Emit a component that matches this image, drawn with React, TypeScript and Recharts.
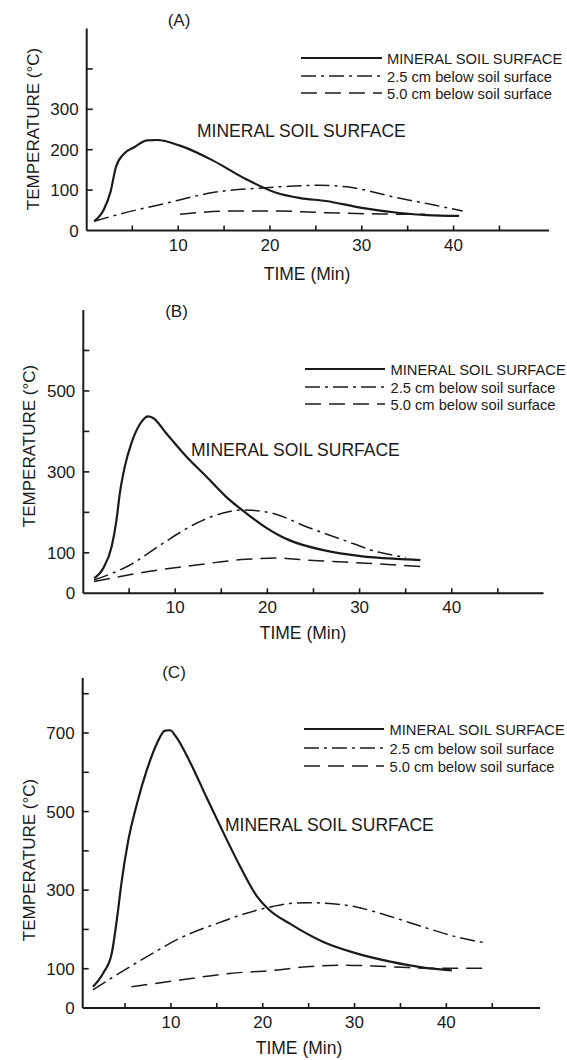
import { LineChart, Line, XAxis, YAxis } from 'recharts'

const FONT = '"Liberation Sans", Arial, Helvetica, sans-serif'
const INK = '#1a1a1a'
const DASH_DOT = '15 5 3 5'
const DASHED = '16 8'

// shared axis / legend text
const timeTicks = [5, 10, 15, 20, 25, 30, 35, 40, 45]
const timeLabels = [10, 20, 30, 40]
const legendLabels = ['MINERAL SOIL SURFACE', '2.5 cm below soil surface', '5.0 cm below soil surface']
const panelTitles = ['(A)', '(B)', '(C)']

// (A)
const aTempTicks = [100, 200, 300, 400]
const aTempLabels = [0, 100, 200, 300]
const aSurfaceTime = [0.85, 1.9, 2.65, 3.2, 4.1, 5.2, 6.6, 7.7, 10.2, 13.8, 17.4, 20.6, 23.3, 26.1, 30, 33.9, 37.1, 40.6]
const aSurfaceTemp = [23, 52, 98, 156, 190, 206, 223, 224, 210, 173, 127, 94, 80, 73, 56, 44, 38, 36]
const aMidTime = [0.85, 3.7, 8.4, 13.8, 19.6, 22.5, 25.3, 28.4, 33.9, 37.9, 41]
const aMidTemp = [23, 41, 66, 94, 106, 110, 112, 108, 81, 63, 48]
const aDeepTime = [10.2, 15.6, 21, 26.1, 32, 36.9]
const aDeepTemp = [40, 48, 48, 44, 41, 40]

// (B)
const bTempTicks = [100, 200, 300, 400, 500, 600]
const bTempLabels = [0, 100, 300, 500]
const bSurfaceTime = [1.2, 2.2, 3.1, 3.63, 4.0, 4.53, 5.25, 6.15, 7.05, 7.6, 9.0, 11.2, 13.35, 15.5, 17.7, 19.8, 21.3, 22.3, 26.2, 30.1, 34, 36.6]
const bSurfaceTemp = [37, 62, 115, 181, 248, 313, 371, 417, 437, 433, 396, 338, 289, 239, 198, 163, 143, 132, 106, 92, 85, 82]
const bMidTime = [1.2, 5.1, 8.7, 12.3, 15.1, 17.3, 20.5, 24.3, 28.2, 32, 35]
const bMidTemp = [33, 70, 124, 173, 198, 206, 198, 164, 132, 102, 89]
const bDeepTime = [1.2, 6.9, 12.3, 17.7, 21.3, 24.3, 30.1, 37.4]
const bDeepTemp = [29, 53, 70, 84, 87, 82, 75, 65]

// (C)
const cTempTicks = [100, 200, 300, 400, 500, 600, 700, 800]
const cTempLabels = [0, 100, 300, 500, 700]
const cSurfaceTime = [1.5, 2.6, 3.55, 4.1, 4.65, 5.35, 6.3, 7.35, 8.45, 9.35, 9.9, 10.6, 12.1, 13.9, 15.7, 17.5, 19.35, 20.6, 23, 26.6, 30.2, 33.9, 37.5, 40.6]
const cSurfaceTemp = [54, 88, 139, 223, 325, 426, 520, 604, 672, 706, 707, 689, 625, 535, 447, 362, 285, 252, 214, 168, 139, 118, 103, 96]
const cMidTime = [1.5, 3.7, 7.35, 11, 15.35, 17.5, 21.2, 23, 25, 26.6, 30.2, 33.9, 37.5, 41.1, 44.2]
const cMidTemp = [46, 79, 130, 178, 218, 236, 259, 266, 268, 267, 257, 233, 206, 181, 166]
const cDeepTime = [5.7, 11, 16.4, 21.2, 24.8, 28.4, 32, 35.7, 39.3, 43.9]
const cDeepTemp = [54, 71, 88, 96, 105, 109, 107, 103, 101, 101]

const zip = (t: number[], v: number[]) => t.map((time, i) => ({ time, temp: v[i] }))

const TimeTick = (props: any) => {
  const { x, y, payload } = props
  const v = payload.value
  return (
    <g>
      <line x1={x} x2={x} y1={y} y2={y - 5} stroke={INK} strokeWidth={1.6} />
      {timeLabels.includes(v) && (
        <text x={x} y={y + 20} textAnchor="middle" fontSize={17} fill={INK} fontFamily={FONT}>
          {v}
        </text>
      )}
    </g>
  )
}

const makeTempTick = (labels: number[]) => (props: any) => {
  const { x, y, payload } = props
  const v = payload.value
  return (
    <g>
      {v !== 0 && <line x1={x} x2={x + 6} y1={y} y2={y} stroke={INK} strokeWidth={1.6} />}
      {labels.includes(v) && (
        <text x={x - 8} y={y} dy="0.36em" textAnchor="end" fontSize={17} fill={INK} fontFamily={FONT}>
          {v}
        </text>
      )}
    </g>
  )
}

const Txt = ({ x, y, size, children, anchor = 'center', rotate = false }: any) => (
  <div
    style={{
      position: 'absolute',
      left: x,
      top: y,
      transform: `translate(${anchor === 'left' ? '0' : '-50%'}, -50%)${rotate ? ' rotate(-90deg)' : ''}`,
      fontSize: size,
      lineHeight: 1,
      whiteSpace: 'nowrap',
      color: INK,
      fontFamily: FONT,
    }}
  >
    {children}
  </div>
)

const Legend = ({ x1, x2, tx, rows }: any) => (
  <>
    {legendLabels.map((label, i) => (
      <div key={label}>
        <svg style={{ position: 'absolute', left: x1, top: rows[i] - 6 }} width={x2 - x1} height={10}>
          <line
            x1={0}
            x2={x2 - x1}
            y1={5}
            y2={5}
            stroke={INK}
            strokeWidth={i === 0 ? 2.2 : 1.5}
            strokeDasharray={i === 0 ? undefined : i === 1 ? DASH_DOT : DASHED}
          />
        </svg>
        <Txt x={tx} y={rows[i]} size={14.7} anchor="left">
          {label}
        </Txt>
      </div>
    ))}
  </>
)

// x0 = pixel column of the y axis, axisY = pixel row of the x axis (inside this chart box)
function Panel({ top, height, x0, xEnd, xDomain, plotTop, axisY, yMax, yTicks, yLabels, surface, mid, deep }: any) {
  const margin = { top: plotTop, right: 567 - xEnd, bottom: height - axisY - 1, left: x0 - 1 }
  return (
    <div style={{ position: 'absolute', left: 0, top }}>
      <LineChart width={567} height={height} margin={margin}>
        <XAxis
          type="number"
          dataKey="time"
          domain={xDomain}
          allowDataOverflow
          ticks={timeTicks}
          interval={0}
          height={1}
          tickSize={0}
          tickMargin={0}
          tick={TimeTick}
          axisLine={{ stroke: INK, strokeWidth: 2 }}
        />
        <YAxis
          type="number"
          domain={[0, yMax]}
          ticks={[0, ...yTicks]}
          interval={0}
          width={1}
          tickSize={0}
          tickMargin={0}
          tick={makeTempTick(yLabels)}
          axisLine={{ stroke: INK, strokeWidth: 2 }}
        />
        <Line data={surface} dataKey="temp" type="monotone" stroke={INK} strokeWidth={2.2} dot={false} isAnimationActive={false} />
        <Line data={mid} dataKey="temp" type="monotone" stroke={INK} strokeWidth={1.5} strokeDasharray={DASH_DOT} dot={false} isAnimationActive={false} />
        <Line data={deep} dataKey="temp" type="monotone" stroke={INK} strokeWidth={1.5} strokeDasharray={DASHED} dot={false} isAnimationActive={false} />
      </LineChart>
    </div>
  )
}

export default function App() {
  return (
    <div style={{ position: 'absolute', left: 0, top: 0, width: 567, height: 1060, background: '#fff', overflow: 'hidden' }}>
      <Panel
        top={0}
        height={300}
        x0={86.7}
        xEnd={549}
        xDomain={[0.03, 50.4]}
        plotTop={28.5}
        axisY={230.5}
        yMax={500}
        yTicks={aTempTicks}
        yLabels={aTempLabels}
        surface={zip(aSurfaceTime, aSurfaceTemp)}
        mid={zip(aMidTime, aMidTemp)}
        deep={zip(aDeepTime, aDeepTemp)}
      />
      <Panel
        top={300}
        height={350}
        x0={83.3}
        xEnd={543.5}
        xDomain={[0.03, 49.95]}
        plotTop={10}
        axisY={293.3}
        yMax={700}
        yTicks={bTempTicks}
        yLabels={bTempLabels}
        surface={zip(bSurfaceTime, bSurfaceTemp)}
        mid={zip(bMidTime, bMidTemp)}
        deep={zip(bDeepTime, bDeepTemp)}
      />
      <Panel
        top={650}
        height={410}
        x0={82.7}
        xEnd={540}
        xDomain={[0.39, 50.2]}
        plotTop={28}
        axisY={358}
        yMax={840}
        yTicks={cTempTicks}
        yLabels={cTempLabels}
        surface={zip(cSurfaceTime, cSurfaceTemp)}
        mid={zip(cMidTime, cMidTemp)}
        deep={zip(cDeepTime, cDeepTemp)}
      />

      <Txt x={179} y={20} size={17}>{panelTitles[0]}</Txt>
      <Txt x={33} y={129} size={17} rotate>TEMPERATURE (°C)</Txt>
      <Txt x={307} y={275} size={17.5}>TIME (Min)</Txt>
      <Txt x={197} y={132} size={17.5} anchor="left">MINERAL SOIL SURFACE</Txt>
      <Legend x1={301} x2={382} tx={387} rows={[59, 77, 94]} />

      <Txt x={176.5} y={311} size={17}>{panelTitles[1]}</Txt>
      <Txt x={29} y={446} size={17} rotate>TEMPERATURE (°C)</Txt>
      <Txt x={303} y={634} size={17.5}>TIME (Min)</Txt>
      <Txt x={191} y={451} size={17.5} anchor="left">MINERAL SOIL SURFACE</Txt>
      <Legend x1={305} x2={385} tx={390.5} rows={[370, 388, 405]} />

      <Txt x={174} y={672} size={17}>{panelTitles[2]}</Txt>
      <Txt x={29} y={860} size={17} rotate>TEMPERATURE (°C)</Txt>
      <Txt x={299} y={1049} size={17.5}>TIME (Min)</Txt>
      <Txt x={225} y={826} size={17.5} anchor="left">MINERAL SOIL SURFACE</Txt>
      <Legend x1={304} x2={384} tx={389.5} rows={[730, 749, 767]} />
    </div>
  )
}
